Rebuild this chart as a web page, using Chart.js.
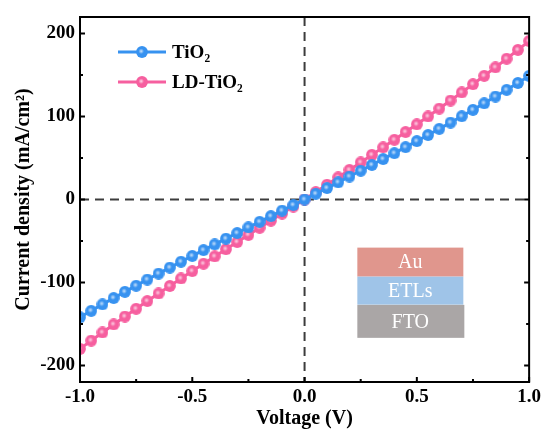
<!DOCTYPE html>
<html>
<head>
<meta charset="utf-8">
<script src="https://cdn.jsdelivr.net/npm/chart.js@4.4.1/dist/chart.umd.min.js"></script>
<style>
html, body { margin: 0; padding: 0; background: #fff; }
</style>
</head>
<body>
<canvas id="ivChart" width="545" height="432"></canvas>
<script>
// J-V sweep, -1 V to +1 V
var voltage = [-1.00, -0.95, -0.90, -0.85, -0.80, -0.75, -0.70, -0.65, -0.60, -0.55, -0.50,
               -0.45, -0.40, -0.35, -0.30, -0.25, -0.20, -0.15, -0.10, -0.05, 0.00,
               0.05, 0.10, 0.15, 0.20, 0.25, 0.30, 0.35, 0.40, 0.45, 0.50,
               0.55, 0.60, 0.65, 0.70, 0.75, 0.80, 0.85, 0.90, 0.95, 1.00];
var tio2 = [-142.0, -134.2, -126.4, -118.8, -111.3, -103.9, -96.5, -89.3, -82.1, -75.0, -68.0,
            -61.0, -54.1, -47.2, -40.4, -33.6, -26.9, -20.1, -13.4, -6.7, 0.0,
            6.9, 13.8, 20.7, 27.7, 34.7, 41.7, 48.8, 55.9, 63.1, 70.4,
            77.7, 85.2, 92.7, 100.4, 108.1, 116.0, 124.1, 132.2, 140.5, 149.0];
var ldTio2 = [-180.0, -170.1, -160.3, -150.6, -141.1, -131.7, -122.4, -113.3, -104.2, -95.2, -86.3,
              -77.4, -68.6, -59.9, -51.3, -42.7, -34.1, -25.5, -17.0, -8.5, 0.0,
              8.9, 17.8, 26.7, 35.7, 44.7, 53.8, 62.9, 72.0, 81.3, 90.6,
              100.1, 109.6, 119.3, 129.1, 139.0, 149.1, 159.3, 169.7, 180.3, 191.0];

var seriesNames = ["TiO\u2082", "LD-TiO\u2082"];
var xTicks = [-1, -0.5, 0, 0.5, 1];
var xMinor = [-0.75, -0.25, 0.25, 0.75];
var yTicks = [-200, -100, 0, 100, 200];
var yMinor = [-150, -50, 50, 150];
var layers = ["Au", "ETLs", "FTO"];

var SERIF = "'Liberation Serif', 'Times New Roman', 'DejaVu Serif', serif";
var BLUE = "#3792f0";
var PINK = "#f65f9f";

// shaded ball used as the point marker
function ball(color) {
  var c = document.createElement("canvas");
  c.width = 12; c.height = 12;
  var g = c.getContext("2d");
  g.fillStyle = color;
  g.beginPath(); g.arc(6, 6, 5.9, 0, Math.PI * 2); g.fill();
  var hl = g.createRadialGradient(5.2, 5.2, 0, 5.2, 5.2, 2.8);
  hl.addColorStop(0, "rgba(255,255,255,0.75)");
  hl.addColorStop(1, "rgba(255,255,255,0)");
  g.fillStyle = hl;
  g.beginPath(); g.arc(6, 6, 5.9, 0, Math.PI * 2); g.fill();
  return c;
}
var blueBall = ball(BLUE);
var pinkBall = ball(PINK);

function toPoints(ys) {
  return voltage.map(function (v, i) { return { x: v, y: ys[i] }; });
}

// dashed zero lines behind the curves
var zeroLines = {
  id: "zeroLines",
  beforeDatasetsDraw: function (chart) {
    var ctx = chart.ctx, a = chart.chartArea;
    var x0 = chart.scales.x.getPixelForValue(0);
    var y0 = chart.scales.y.getPixelForValue(0);
    ctx.save();
    ctx.strokeStyle = "#3c3c3c";
    ctx.lineWidth = 2;
    ctx.setLineDash([9, 6]);
    ctx.beginPath();
    ctx.moveTo(a.left, y0); ctx.lineTo(a.right, y0);
    ctx.moveTo(x0, a.top); ctx.lineTo(x0, a.bottom);
    ctx.stroke();
    ctx.restore();
  }
};

// closed frame with inward ticks, legend and the layer stack sketch
var frame = {
  id: "frame",
  afterDraw: function (chart) {
    var ctx = chart.ctx, a = chart.chartArea;
    var xs = chart.scales.x, ys = chart.scales.y;
    ctx.save();
    ctx.strokeStyle = "#000";
    ctx.lineWidth = 2;
    ctx.strokeRect(a.left, a.top, a.right - a.left, a.bottom - a.top);

    ctx.beginPath();
    function xt(list, len) {
      list.forEach(function (v) {
        var p = xs.getPixelForValue(v);
        ctx.moveTo(p, a.bottom); ctx.lineTo(p, a.bottom - len);
      });
    }
    function yt(list, len) {
      list.forEach(function (v) {
        var p = ys.getPixelForValue(v);
        ctx.moveTo(a.left, p); ctx.lineTo(a.left + len, p);
        ctx.moveTo(a.right, p); ctx.lineTo(a.right - len, p);
      });
    }
    xt(xTicks, 5); xt(xMinor, 3);
    yt(yTicks, 5); yt(yMinor, 3);
    ctx.stroke();

    // legend
    ctx.font = "bold 19px " + SERIF;
    ctx.textBaseline = "middle";
    chart.data.datasets.forEach(function (ds, i) {
      var y = a.top + 35 + i * 30;
      var x1 = a.left + 38, x2 = a.left + 86;
      ctx.strokeStyle = ds.borderColor;
      ctx.lineWidth = 3;
      ctx.beginPath(); ctx.moveTo(x1, y); ctx.lineTo(x2, y); ctx.stroke();
      ctx.drawImage(ds.pointStyle, (x1 + x2) / 2 - 6, y - 6);
      ctx.fillStyle = "#000";
      ctx.fillText(ds.label, x2 + 6, y + 1);
    });

    // device layer stack
    var bx = xs.getPixelForValue(0.235), bw = 106;
    var tops = [ys.getPixelForValue(-58), ys.getPixelForValue(-93), ys.getPixelForValue(-127)];
    var hts = [29, 28, 33];
    var fills = ["#e0968d", "#9fc4e8", "#aaa6a6"];
    ctx.font = "20px " + SERIF;
    ctx.textAlign = "center";
    layers.forEach(function (name, i) {
      ctx.fillStyle = fills[i];
      ctx.fillRect(bx, tops[i], bw + (i === 2 ? 1 : 0), hts[i]);
      ctx.fillStyle = "#fff";
      ctx.fillText(name, bx + bw / 2, tops[i] + hts[i] / 2 + 1);
    });
    ctx.restore();
  }
};

new Chart(document.getElementById("ivChart"), {
  type: "line",
  data: {
    datasets: [{
      label: seriesNames[0],
      data: toPoints(tio2),
      borderColor: BLUE,
      borderWidth: 3,
      pointStyle: blueBall,
      pointRadius: 6,
      tension: 0
    }, {
      label: seriesNames[1],
      data: toPoints(ldTio2),
      borderColor: PINK,
      borderWidth: 3,
      pointStyle: pinkBall,
      pointRadius: 6,
      tension: 0
    }]
  },
  options: {
    responsive: false,
    animation: false,
    layout: { padding: { left: 0, right: 14, top: 17, bottom: 0 } },
    plugins: { legend: { display: false }, tooltip: { enabled: false } },
    scales: {
      x: {
        type: "linear",
        min: -1, max: 1,
        afterBuildTicks: function (s) { s.ticks = xTicks.map(function (v) { return { value: v }; }); },
        afterFit: function (s) { s.height = 50; },
        grid: { display: false, drawTicks: false },
        border: { display: false },
        ticks: {
          padding: 4,
          color: "#000",
          font: { family: SERIF, size: 19, weight: "bold" },
          callback: function (v) { return Number(v).toFixed(1); }
        },
        title: {
          display: true,
          text: "Voltage (V)",
          color: "#000",
          padding: { top: 0, bottom: 1 },
          font: { family: SERIF, size: 20, weight: "bold" }
        }
      },
      y: {
        min: -220, max: 220,
        afterBuildTicks: function (s) { s.ticks = yTicks.map(function (v) { return { value: v }; }); },
        afterFit: function (s) { s.width = 80; },
        grid: { display: false, drawTicks: false },
        border: { display: false },
        ticks: {
          padding: 5,
          color: "#000",
          font: { family: SERIF, size: 19, weight: "bold" },
          callback: function (v) { return String(v); }
        },
        title: {
          display: true,
          text: "Current density (mA/cm\u00b2)",
          color: "#000",
          padding: { top: 12, bottom: 0 },
          font: { family: SERIF, size: 20, weight: "bold" }
        }
      }
    }
  },
  plugins: [zeroLines, frame]
});
</script>
</body>
</html>
